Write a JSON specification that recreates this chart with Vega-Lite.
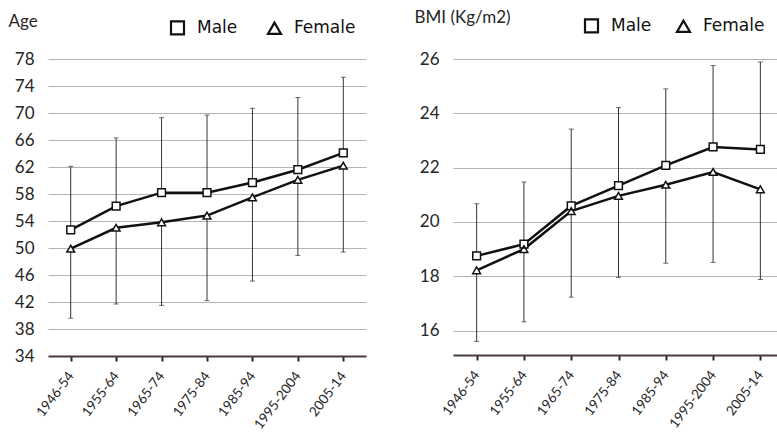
{
  "$schema": "https://vega.github.io/schema/vega-lite/v6.json",
  "padding": {"left": 8, "top": 8, "right": 0, "bottom": 0},
  "background": "white",
  "config": {
    "font": "Lato",
    "view": {"stroke": null},
    "concat": {"spacing": 48},
    "axisY": {
      "domain": false, "ticks": false, "grid": true, "gridColor": "#b4b4b4", "gridWidth": 1,
      "labelFontSize": 17, "labelColor": "#262626", "labelPadding": 14, "labelOverlap": false,
      "titleAngle": 0, "titleAlign": "left", "titleBaseline": "alphabetic",
      "titleFontSize": 17, "titleFontWeight": "normal", "titleColor": "#262626"
    },
    "axisX": {
      "title": null, "labelAngle": -53, "labelFontSize": 13.5, "labelAlign": "right", "labelBaseline": "middle",
      "labelPadding": 12, "labelColor": "#262626", "domain": true, "domainColor": "#4a3c3c", "domainWidth": 2,
      "ticks": true, "tickColor": "#262626", "tickWidth": 2, "tickSize": 5, "grid": false
    },
    "legend": {
      "orient": "none", "direction": "horizontal", "title": null,
      "labelFont": "DejaVu Sans", "labelFontSize": 17, "labelColor": "#111",
      "symbolSize": 169, "symbolStrokeWidth": 2.2, "symbolOpacity": 1, "labelOffset": 11
    }
  },
  "datasets": {
    "age": [
      {"period": "1946-54", "sex": "Male", "mean": 52.7, "end": 62.1},
      {"period": "1955-64", "sex": "Male", "mean": 56.2, "end": 66.3},
      {"period": "1965-74", "sex": "Male", "mean": 58.2, "end": 69.3},
      {"period": "1975-84", "sex": "Male", "mean": 58.2, "end": 69.7},
      {"period": "1985-94", "sex": "Male", "mean": 59.7, "end": 70.7},
      {"period": "1995-2004", "sex": "Male", "mean": 61.6, "end": 72.3},
      {"period": "2005-14", "sex": "Male", "mean": 64.1, "end": 75.3},
      {"period": "1946-54", "sex": "Female", "mean": 49.9, "end": 39.6},
      {"period": "1955-64", "sex": "Female", "mean": 53.0, "end": 41.7},
      {"period": "1965-74", "sex": "Female", "mean": 53.8, "end": 41.5},
      {"period": "1975-84", "sex": "Female", "mean": 54.8, "end": 42.2},
      {"period": "1985-94", "sex": "Female", "mean": 57.5, "end": 45.1},
      {"period": "1995-2004", "sex": "Female", "mean": 60.1, "end": 48.9},
      {"period": "2005-14", "sex": "Female", "mean": 62.2, "end": 49.4}
    ],
    "bmi": [
      {"period": "1946-54", "sex": "Male", "mean": 18.75, "end": 20.67},
      {"period": "1955-64", "sex": "Male", "mean": 19.18, "end": 21.47},
      {"period": "1965-74", "sex": "Male", "mean": 20.59, "end": 23.42},
      {"period": "1975-84", "sex": "Male", "mean": 21.34, "end": 24.21},
      {"period": "1985-94", "sex": "Male", "mean": 22.08, "end": 24.9},
      {"period": "1995-2004", "sex": "Male", "mean": 22.76, "end": 25.76},
      {"period": "2005-14", "sex": "Male", "mean": 22.67, "end": 25.89},
      {"period": "1946-54", "sex": "Female", "mean": 18.22, "end": 15.6},
      {"period": "1955-64", "sex": "Female", "mean": 19.0, "end": 16.32},
      {"period": "1965-74", "sex": "Female", "mean": 20.4, "end": 17.23},
      {"period": "1975-84", "sex": "Female", "mean": 20.96, "end": 17.96},
      {"period": "1985-94", "sex": "Female", "mean": 21.37, "end": 18.48},
      {"period": "1995-2004", "sex": "Female", "mean": 21.84, "end": 18.51},
      {"period": "2005-14", "sex": "Female", "mean": 21.2, "end": 17.88}
    ]
  },
  "hconcat": [
    {
      "width": 318, "height": 297,
      "data": {"name": "age"},
      "encoding": {
        "x": {"field": "period", "type": "nominal", "sort": null, "scale": {"type": "point", "padding": 0.5}}
      },
      "resolve": {"scale": {"shape": "independent"}, "legend": {"shape": "independent"}},
      "layer": [
        {
          "mark": {"type": "rule", "color": "#333", "strokeWidth": 1},
          "encoding": {
            "y": {"field": "mean", "type": "quantitative", "title": "Age",
              "scale": {"domain": [34, 78], "nice": false, "zero": false},
              "axis": {"values": [34, 38, 42, 46, 50, 54, 58, 62, 66, 70, 74, 78], "tickCount": 12, "titleX": -40, "titleY": -33}},
            "y2": {"field": "end"}
          }
        },
        {
          "mark": {"type": "tick", "color": "#333", "thickness": 1, "size": 5, "orient": "horizontal"},
          "encoding": {"y": {"field": "end", "type": "quantitative", "title": "Age"}}
        },
        {
          "mark": {"type": "line", "color": "#111", "strokeWidth": 2.5},
          "encoding": {"y": {"field": "mean", "type": "quantitative", "title": "Age"}, "detail": {"field": "sex"}}
        },
        {
          "mark": {"type": "point", "filled": true, "color": "white", "size": 60, "opacity": 1},
          "encoding": {
            "y": {"field": "mean", "type": "quantitative", "title": "Age"},
            "shape": {"field": "sex", "type": "nominal",
              "scale": {"domain": ["Male", "Female"], "range": ["square", "triangle-up"]}, "legend": null}
          }
        },
        {
          "mark": {"type": "point", "filled": false, "color": "#111", "strokeWidth": 1.5, "size": 60, "opacity": 1},
          "encoding": {
            "y": {"field": "mean", "type": "quantitative", "title": "Age"},
            "shape": {"field": "sex", "type": "nominal",
              "scale": {"domain": ["Male", "Female"], "range": ["square", "triangle-up"]},
              "legend": {"legendX": 121, "legendY": -40, "columnPadding": 25}}
          }
        }
      ]
    },
    {
      "width": 331, "height": 296,
      "data": {"name": "bmi"},
      "encoding": {
        "x": {"field": "period", "type": "nominal", "sort": null, "scale": {"type": "point", "padding": 0.5}}
      },
      "resolve": {"scale": {"shape": "independent"}, "legend": {"shape": "independent"}},
      "layer": [
        {
          "mark": {"type": "rule", "color": "#333", "strokeWidth": 1},
          "encoding": {
            "y": {"field": "mean", "type": "quantitative", "title": "BMI (Kg/m2)",
              "scale": {"domain": [15.1, 26], "nice": false, "zero": false},
              "axis": {"values": [16, 18, 20, 22, 24, 26], "tickCount": 6, "titleX": -39, "titleY": -37}},
            "y2": {"field": "end"}
          }
        },
        {
          "mark": {"type": "tick", "color": "#333", "thickness": 1, "size": 5, "orient": "horizontal"},
          "encoding": {"y": {"field": "end", "type": "quantitative", "title": "BMI (Kg/m2)"}}
        },
        {
          "mark": {"type": "line", "color": "#111", "strokeWidth": 2.5},
          "encoding": {"y": {"field": "mean", "type": "quantitative", "title": "BMI (Kg/m2)"}, "detail": {"field": "sex"}}
        },
        {
          "mark": {"type": "point", "filled": true, "color": "white", "size": 60, "opacity": 1},
          "encoding": {
            "y": {"field": "mean", "type": "quantitative", "title": "BMI (Kg/m2)"},
            "shape": {"field": "sex", "type": "nominal",
              "scale": {"domain": ["Male", "Female"], "range": ["square", "triangle-up"]}, "legend": null}
          }
        },
        {
          "mark": {"type": "point", "filled": false, "color": "#111", "strokeWidth": 1.5, "size": 60, "opacity": 1},
          "encoding": {
            "y": {"field": "mean", "type": "quantitative", "title": "BMI (Kg/m2)"},
            "shape": {"field": "sex", "type": "nominal",
              "scale": {"domain": ["Male", "Female"], "range": ["square", "triangle-up"]},
              "legend": {"legendX": 130, "legendY": -42, "columnPadding": 20}}
          }
        }
      ]
    }
  ],
  "resolve": {"scale": {"shape": "independent"}, "legend": {"shape": "independent"}}
}
